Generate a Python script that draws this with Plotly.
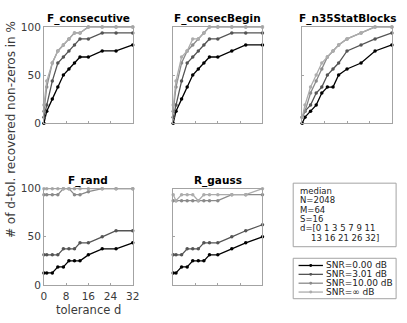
import plotly.graph_objects as go

# tolerance values d (x axis)
d = [0, 1, 3, 5, 7, 9, 11, 13, 16, 21, 26, 32]

snr_names = ["SNR=0.00 dB", "SNR=3.01 dB", "SNR=10.00 dB", "SNR=\u221e dB"]
colors = ["#000000", "#545454", "#8a8a8a", "#acacac"]

# recovered non-zeros in %, one list per SNR (0, 3.01, 10, inf)
consecutive = [
    [0, 12.5, 25, 37.5, 50, 56.25, 62.5, 68.75, 68.75, 75, 75, 81.25],
    [6.25, 18.75, 43.75, 62.5, 68.75, 75, 81.25, 87.5, 87.5, 93.75, 93.75, 93.75],
    [12.5, 37.5, 62.5, 75, 81.25, 87.5, 93.75, 93.75, 100, 100, 100, 100],
    [18.75, 43.75, 62.5, 75, 81.25, 87.5, 93.75, 93.75, 100, 100, 100, 100],
]
consec_begin = [
    [0, 12.5, 25, 37.5, 50, 56.25, 62.5, 68.75, 68.75, 75, 81.25, 81.25],
    [6.25, 18.75, 43.75, 62.5, 68.75, 75, 81.25, 87.5, 87.5, 93.75, 93.75, 93.75],
    [12.5, 37.5, 62.5, 75, 81.25, 87.5, 93.75, 100, 100, 100, 100, 100],
    [18.75, 43.75, 68.75, 75, 87.5, 87.5, 93.75, 100, 100, 100, 100, 100],
]
n35_stat_blocks = [
    [0, 6.25, 12.5, 18.75, 31.25, 37.5, 37.5, 50, 56.25, 62.5, 75, 81.25],
    [6.25, 12.5, 18.75, 31.25, 37.5, 50, 56.25, 62.5, 75, 81.25, 87.5, 93.75],
    [6.25, 12.5, 31.25, 43.75, 56.25, 68.75, 75, 81.25, 87.5, 93.75, 100, 100],
    [6.25, 18.75, 37.5, 50, 62.5, 68.75, 75, 81.25, 87.5, 93.75, 100, 100],
]
f_rand = [
    [12.5, 12.5, 12.5, 18.75, 18.75, 25, 25, 25, 31.25, 37.5, 37.5, 43.75],
    [31.25, 31.25, 31.25, 31.25, 37.5, 37.5, 37.5, 43.75, 43.75, 50, 56.25, 56.25],
    [93.75, 93.75, 93.75, 93.75, 100, 100, 93.75, 93.75, 96.875, 100, 100, 100],
    [100, 100, 100, 100, 100, 100, 100, 100, 100, 100, 100, 100],
]
r_gauss = [
    [12.5, 12.5, 18.75, 18.75, 25, 25, 25, 31.25, 31.25, 37.5, 43.75, 50],
    [31.25, 31.25, 31.25, 37.5, 37.5, 37.5, 43.75, 43.75, 43.75, 50, 56.25, 62.5],
    [87.5, 87.5, 87.5, 87.5, 87.5, 87.5, 87.5, 87.5, 87.5, 93.75, 93.75, 93.75],
    [93.75, 87.5, 93.75, 93.75, 93.75, 87.5, 93.75, 93.75, 93.75, 93.75, 93.75, 100],
]

panels = [
    ("F_consecutive", consecutive),
    ("F_consecBegin", consec_begin),
    ("F_n35StatBlocks", n35_stat_blocks),
    ("F_rand", f_rand),
    ("R_gauss", r_gauss),
]

W, H = 407, 323


def px(x):
    return x / W


def py(y):
    return 1 - y / H


cols = [(42, 133), (174.5, 266), (306.7, 398.7)]
rows = [(21.7, 121.7), (189.7, 289.7)]
axcol = "#a3a3a3"
font = "DejaVu Sans"

fig = go.Figure()
annotations = []
shapes = []

for i, (name, series) in enumerate(panels):
    r, c = divmod(i, 3)
    n = i + 1
    xa = "x" if n == 1 else f"x{n}"
    ya = "y" if n == 1 else f"y{n}"
    for k, vals in enumerate(series):
        fig.add_trace(go.Scatter(
            x=d, y=vals, xaxis=xa, yaxis=ya, mode="lines+markers",
            line=dict(color=colors[k], width=1.3),
            marker=dict(color=colors[k], size=3.5),
            cliponaxis=False, showlegend=False, name=snr_names[k],
        ))
    common = dict(showline=True, linecolor=axcol, linewidth=1, mirror=True,
                  ticks="inside", ticklen=2, tickcolor=axcol, showgrid=False,
                  zeroline=False, tickfont=dict(family=font, size=10.5, color="#3a3a3a"))
    fig.update_layout({
        f"xaxis{n}": dict(domain=[px(cols[c][0]), px(cols[c][1])], range=[0, 32],
                          tickvals=[0, 8, 16, 24, 32], anchor=ya, ticklabelstandoff=1,
                          showticklabels=(i == 3), **common),
        f"yaxis{n}": dict(domain=[py(rows[r][1]), py(rows[r][0])], range=[0, 100],
                          tickvals=[0, 50, 100], anchor=xa,
                          showticklabels=(c == 0), **common),
    })
    annotations.append(dict(
        text=f"<b>{name}</b>", x=px((cols[c][0] + cols[c][1]) / 2), y=py(rows[r][0]),
        xref="paper", yref="paper", xanchor="center", yanchor="bottom",
        showarrow=False, font=dict(family=font, size=10.5, color="black"),
    ))

annotations.append(dict(
    text="# of d-tol. recovered non-zeros in %", x=px(8), y=py(128), textangle=-90,
    xref="paper", yref="paper", xanchor="center", yanchor="middle", showarrow=False,
    font=dict(family=font, size=12, color="#3a3a3a"),
))
annotations.append(dict(
    text="tolerance d", x=px(88), y=py(315.5), xref="paper", yref="paper",
    xanchor="center", yanchor="middle", showarrow=False,
    font=dict(family=font, size=11.5, color="#3a3a3a"),
))

# info box
shapes.append(dict(type="rect", xref="paper", yref="paper", x0=px(297.5), x1=px(403),
                   y0=py(250), y1=py(184), line=dict(color=axcol, width=1)))
info_lines = [
    ("median", 302),
    ("N=2048", 302),
    ("M=64", 302),
    ("S=16", 302),
    ("d=[" + " ".join(str(v) for v in d[:7]), 302),
    (" ".join(str(v) for v in d[7:]) + "]", 314),
]
for j, (txt, x0) in enumerate(info_lines):
    annotations.append(dict(
        text=txt, x=px(x0), y=py(192 + j * 9.7), xref="paper", yref="paper",
        xanchor="left", yanchor="middle", showarrow=False,
        font=dict(family=font, size=8.5, color="#222222"),
    ))

# legend box
shapes.append(dict(type="rect", xref="paper", yref="paper", x0=px(297.5), x1=px(403),
                   y0=py(304), y1=py(262), line=dict(color=axcol, width=1)))
for k, nm in enumerate(snr_names):
    yy = 269.5 + k * 9.2
    shapes.append(dict(type="line", xref="paper", yref="paper", x0=px(303), x1=px(328),
                       y0=py(yy), y1=py(yy), line=dict(color=colors[k], width=1.3)))
    shapes.append(dict(type="circle", xref="paper", yref="paper", x0=px(314), x1=px(317),
                       y0=py(yy + 1.5), y1=py(yy - 1.5), fillcolor=colors[k],
                       line=dict(color=colors[k], width=0)))
    annotations.append(dict(
        text=nm, x=px(329.5), y=py(yy), xref="paper", yref="paper",
        xanchor="left", yanchor="middle", showarrow=False,
        font=dict(family=font, size=9, color="#222222"),
    ))

fig.update_layout(
    width=W, height=H, margin=dict(l=0, r=0, t=0, b=0),
    paper_bgcolor="white", plot_bgcolor="white",
    annotations=annotations, shapes=shapes, showlegend=False,
)

fig.write_html("out.html", config={"displayModeBar": False},
               post_script="document.body.style.margin='0';")
